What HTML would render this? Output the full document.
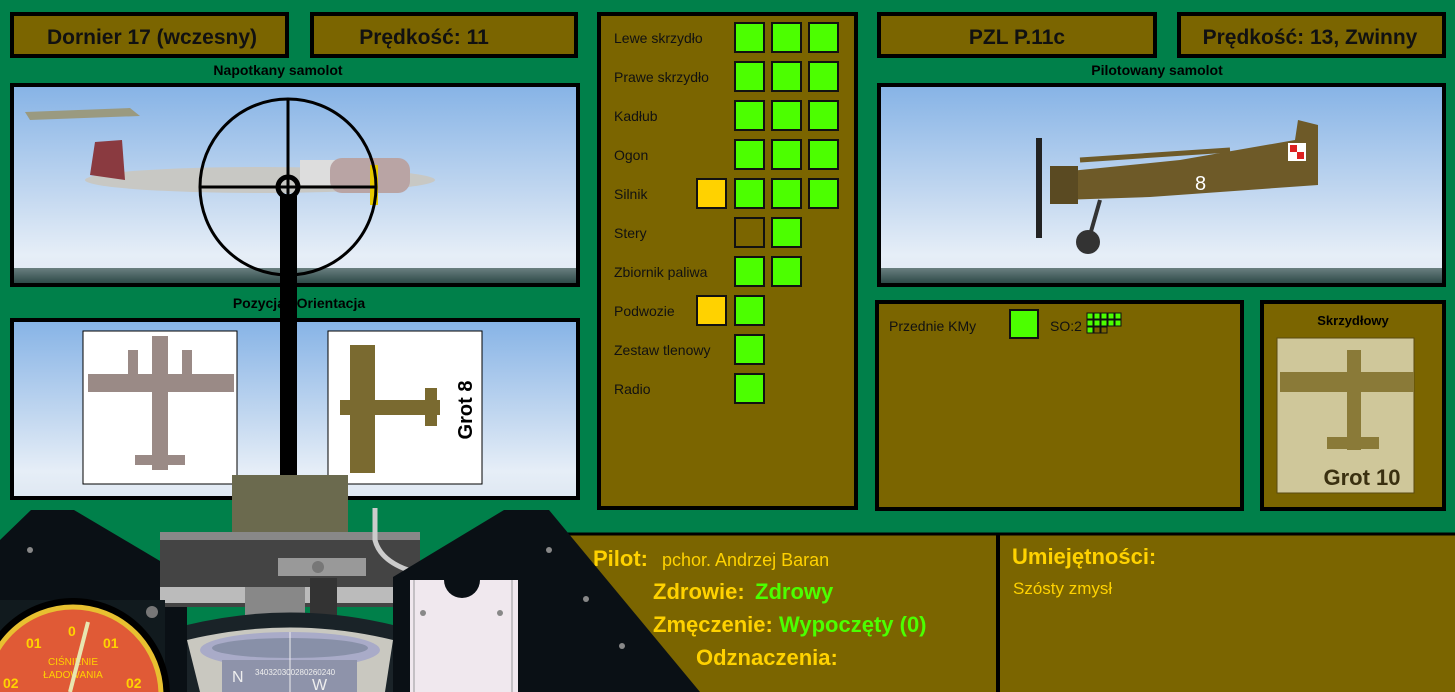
<!DOCTYPE html>
<html><head><meta charset="utf-8"><style>
html,body{margin:0;padding:0;background:#00804a;width:1455px;height:692px;overflow:hidden;}
svg{display:block;font-family:"Liberation Sans","DejaVu Sans",sans-serif;}
</style></head><body>
<svg width="1455" height="692" viewBox="0 0 1455 692" xmlns="http://www.w3.org/2000/svg">
<defs>
<linearGradient id="sky" x1="0" y1="0" x2="0" y2="1">
<stop offset="0" stop-color="#86b3e6"/><stop offset="0.55" stop-color="#c3d8f0"/><stop offset="0.85" stop-color="#e6eef7"/><stop offset="1" stop-color="#dfe8f2"/>
</linearGradient>
<linearGradient id="sea" x1="0" y1="0" x2="0" y2="1"><stop offset="0" stop-color="#6a7f80"/><stop offset="1" stop-color="#2e4a48"/></linearGradient>
</defs>
<rect width="1455" height="692" fill="#00804a"/>
<g stroke="#000" stroke-width="4" fill="#7b6500">
<rect x="12" y="14" width="275" height="42"/>
<rect x="312" y="14" width="264" height="42"/>
<rect x="879" y="14" width="276" height="42"/>
<rect x="1179" y="14" width="265" height="42"/>
<rect x="599" y="14" width="257" height="494"/>
<rect x="877" y="302" width="365" height="207"/>
<rect x="1262" y="302" width="182" height="207"/>
</g>
<g font-size="21" font-weight="bold" fill="#111" text-anchor="middle">
<text x="152" y="44">Dornier 17 (wczesny)</text>
<text x="424" y="44">Prędkość: 11</text>
<text x="1017" y="44">PZL P.11c</text>
<text x="1310" y="44">Prędkość: 13, Zwinny</text>
</g>
<g font-size="14" font-weight="bold" fill="#000" text-anchor="middle">
<text x="278" y="75">Napotkany samolot</text>
<text x="1157" y="75">Pilotowany samolot</text>
<text x="299" y="308">Pozycja i Orientacja</text>
<text x="1353" y="325" font-size="13">Skrzydłowy</text>
</g>
<!-- sky panels -->
<rect x="12" y="85" width="566" height="200" fill="url(#sky)" stroke="#000" stroke-width="4"/>
<rect x="14" y="268" width="562" height="15" fill="url(#sea)"/>
<rect x="879" y="85" width="565" height="200" fill="url(#sky)" stroke="#000" stroke-width="4"/>
<rect x="881" y="268" width="561" height="15" fill="url(#sea)"/>
<rect x="12" y="320" width="566" height="178" fill="url(#sky)" stroke="#000" stroke-width="4"/>
<!-- Dornier side -->
<g>
<ellipse cx="260" cy="180" rx="175" ry="13" fill="#c8c8c4"/>
<path d="M90 175 L95 142 L122 140 L125 180 Z" fill="#8a3a40"/>
<rect x="300" y="160" width="40" height="25" fill="#ddd"/>
<rect x="330" y="158" width="80" height="35" rx="12" fill="#b9a4a4"/>
<rect x="370" y="165" width="8" height="40" fill="#e6c800"/>
<path d="M25 112 L130 108 L140 116 L30 120 Z" fill="#9a9a80"/>
</g>
<!-- PZL side -->
<g>
<path d="M1060 172 L1180 160 L1295 140 L1298 120 L1318 125 L1318 185 L1150 197 L1060 200 Z" fill="#6e5a28"/>
<rect x="1050" y="166" width="28" height="38" fill="#5a4a22"/>
<rect x="1036" y="138" width="6" height="100" fill="#222"/>
<path d="M1080 160 L1230 150" stroke="#6e5a28" stroke-width="5"/>
<path d="M1100 200 L1090 235" stroke="#333" stroke-width="4"/>
<circle cx="1088" cy="242" r="12" fill="#333"/>
<rect x="1288" y="143" width="18" height="18" fill="#fff"/><rect x="1290" y="145" width="7" height="7" fill="#d22"/><rect x="1297" y="152" width="7" height="7" fill="#d22"/>
<text x="1195" y="190" font-size="20" fill="#fff">8</text>
</g>
<!-- top-down images -->
<rect x="83" y="331" width="154" height="153" fill="#fff" stroke="#000" stroke-width="1"/>
<g fill="#9a8a86"><rect x="88" y="374" width="146" height="18"/><rect x="152" y="336" width="16" height="134"/><rect x="135" y="455" width="50" height="10"/><rect x="128" y="350" width="10" height="40"/><rect x="182" y="350" width="10" height="40"/></g>
<rect x="328" y="331" width="154" height="153" fill="#fff" stroke="#000" stroke-width="1"/>
<g fill="#7a6a30"><rect x="350" y="345" width="25" height="128"/><rect x="340" y="400" width="100" height="15"/><rect x="425" y="388" width="12" height="38"/></g>
<text transform="translate(472,410) rotate(-90)" font-size="20" font-weight="bold" text-anchor="middle" fill="#000">Grot 8</text>
<!-- gunsight -->
<g stroke="#000" fill="none" stroke-width="3">
<circle cx="288" cy="187" r="88"/>
<line x1="288" y1="99" x2="288" y2="275"/>
<line x1="200" y1="187" x2="376" y2="187"/>
<circle cx="288" cy="187" r="10" stroke-width="5"/>
</g>
<rect x="280" y="196" width="17" height="290" fill="#000"/>
<!-- damage -->
<g font-size="14" fill="#111">
<text x="614" y="43">Lewe skrzydło</text><text x="614" y="82">Prawe skrzydło</text><text x="614" y="121">Kadłub</text><text x="614" y="160">Ogon</text><text x="614" y="199">Silnik</text><text x="614" y="238">Stery</text><text x="614" y="277">Zbiornik paliwa</text><text x="614" y="316">Podwozie</text><text x="614" y="355">Zestaw tlenowy</text><text x="614" y="394">Radio</text>
</g>
<g stroke="#111" stroke-width="2" fill="#4cff00">
<rect x="735" y="23" width="29" height="29"/><rect x="772" y="23" width="29" height="29"/><rect x="809" y="23" width="29" height="29"/>
<rect x="735" y="62" width="29" height="29"/><rect x="772" y="62" width="29" height="29"/><rect x="809" y="62" width="29" height="29"/>
<rect x="735" y="101" width="29" height="29"/><rect x="772" y="101" width="29" height="29"/><rect x="809" y="101" width="29" height="29"/>
<rect x="735" y="140" width="29" height="29"/><rect x="772" y="140" width="29" height="29"/><rect x="809" y="140" width="29" height="29"/>
<rect x="697" y="179" width="29" height="29" fill="#ffd200"/><rect x="735" y="179" width="29" height="29"/><rect x="772" y="179" width="29" height="29"/><rect x="809" y="179" width="29" height="29"/>
<rect x="735" y="218" width="29" height="29" fill="#7b6500"/><rect x="772" y="218" width="29" height="29"/>
<rect x="735" y="257" width="29" height="29"/><rect x="772" y="257" width="29" height="29"/>
<rect x="697" y="296" width="29" height="29" fill="#ffd200"/><rect x="735" y="296" width="29" height="29"/>
<rect x="735" y="335" width="29" height="29"/>
<rect x="735" y="374" width="29" height="29"/>
</g>
<!-- KMy -->
<text x="889" y="331" font-size="14" fill="#111">Przednie KMy</text>
<rect x="1010" y="310" width="28" height="28" fill="#4cff00" stroke="#111" stroke-width="2"/>
<text x="1050" y="331" font-size="14" fill="#111">SO:2</text>
<g fill="#4cff00" stroke="#111" stroke-width="1">
<rect x="1087" y="313" width="6" height="6"/><rect x="1094" y="313" width="6" height="6"/><rect x="1101" y="313" width="6" height="6"/><rect x="1108" y="313" width="6" height="6"/><rect x="1115" y="313" width="6" height="6"/>
<rect x="1087" y="320" width="6" height="6"/><rect x="1094" y="320" width="6" height="6"/><rect x="1101" y="320" width="6" height="6"/><rect x="1108" y="320" width="6" height="6"/><rect x="1115" y="320" width="6" height="6"/>
<rect x="1087" y="327" width="6" height="6"/><rect x="1094" y="327" width="6" height="6" fill="#7b6500"/><rect x="1101" y="327" width="6" height="6" fill="#7b6500"/>
</g>
<!-- wingman -->
<rect x="1277" y="338" width="137" height="155" fill="#cfc79a" stroke="#5a4a10" stroke-width="1"/>
<g fill="#8a7a38"><rect x="1280" y="372" width="134" height="20"/><rect x="1347" y="350" width="14" height="100"/><rect x="1327" y="437" width="52" height="12"/></g>
<text x="1362" y="485" font-size="22" font-weight="bold" fill="#3a3010" text-anchor="middle">Grot 10</text>
<!-- pilot panels -->
<rect x="565" y="533" width="433" height="159" fill="#7b6500"/>
<rect x="998" y="533" width="457" height="159" fill="#7b6500"/>
<line x1="998" y1="533" x2="998" y2="692" stroke="#000" stroke-width="4"/>
<line x1="565" y1="534" x2="1455" y2="534" stroke="#000" stroke-width="3"/>
<g font-size="22" font-weight="bold" fill="#ffd200">
<text x="593" y="566">Pilot:</text>
<text x="653" y="599">Zdrowie:</text>
<text x="653" y="632">Zmęczenie:</text>
<text x="696" y="665">Odznaczenia:</text>
<text x="1012" y="564">Umiejętności:</text>
</g>
<text x="662" y="566" font-size="18" fill="#ffd200">pchor. Andrzej Baran</text>
<g font-size="22" font-weight="bold" fill="#4cff00"><text x="755" y="599">Zdrowy</text><text x="779" y="632">Wypoczęty (0)</text></g>
<text x="1013" y="594" font-size="17" fill="#ffd200">Szósty zmysł</text>
<!-- cockpit -->
<polygon points="0,540 31,510 74,510 187,577 187,692 0,692" fill="#0a1015"/>
<rect x="232" y="475" width="116" height="60" fill="#6b6a4e"/>
<rect x="160" y="532" width="260" height="75" fill="#444"/>
<rect x="160" y="532" width="260" height="8" fill="#888"/>
<rect x="160" y="587" width="260" height="16" fill="#bbb"/>
<rect x="245" y="587" width="60" height="30" fill="#888"/>
<rect x="310" y="578" width="27" height="40" fill="#333"/>
<rect x="278" y="558" width="88" height="18" fill="#999"/>
<circle cx="318" cy="567" r="6" fill="#777"/>
<path d="M375 508 L375 540 Q380 560 408 570" stroke="#ccc" stroke-width="5" fill="none"/>
<path d="M187 625 Q290 600 393 625 L393 692 L187 692 Z" fill="#1a2328"/>
<path d="M187 640 Q290 615 393 640 L385 692 L200 692 Z" fill="#c9c8c0"/>
<ellipse cx="290" cy="650" rx="90" ry="18" fill="#a9abc8"/>
<ellipse cx="290" cy="648" rx="78" ry="10" fill="#8890a8"/>
<rect x="222" y="660" width="135" height="32" fill="#8e93aa"/>
<text x="232" y="682" font-size="16" fill="#eee">N</text><text x="255" y="675" font-size="8" fill="#eee">340320300280260240</text><text x="312" y="690" font-size="16" fill="#eee">W</text>
<line x1="290" y1="632" x2="290" y2="692" stroke="#eee" stroke-width="1"/>
<polygon points="393,577 504,510 549,510 700,692 393,692" fill="#0a1015"/>
<rect x="0" y="600" width="165" height="92" fill="#111a1e"/>
<circle cx="73" cy="695" r="97" fill="#000"/>
<circle cx="73" cy="695" r="88" fill="#e05a36" stroke="#e8c030" stroke-width="5"/>
<text x="68" y="636" font-size="14" font-weight="bold" fill="#ffd200">0</text>
<text x="26" y="648" font-size="14" font-weight="bold" fill="#ffd200">01</text>
<text x="103" y="648" font-size="14" font-weight="bold" fill="#ffd200">01</text>
<text x="3" y="688" font-size="14" font-weight="bold" fill="#ffd200">02</text>
<text x="126" y="688" font-size="14" font-weight="bold" fill="#ffd200">02</text>
<text x="73" y="665" font-size="10" fill="#ffd200" text-anchor="middle">CIŚNIENIE</text>
<text x="73" y="678" font-size="10" fill="#ffd200" text-anchor="middle">ŁADOWANIA</text>
<line x1="70" y1="692" x2="88" y2="622" stroke="#e8e6b0" stroke-width="4"/>
<circle cx="152" cy="612" r="6" fill="#777"/>
<rect x="410" y="580" width="108" height="112" fill="#f0e8ee"/>
<line x1="414" y1="580" x2="414" y2="692" stroke="#999"/><line x1="512" y1="580" x2="512" y2="692" stroke="#999"/>
<path d="M444 580 A17 17 0 0 0 480 580 Z" fill="#0a1015"/>
<g fill="#888"><circle cx="30" cy="550" r="3"/><circle cx="549" cy="550" r="3"/><circle cx="423" cy="613" r="3"/><circle cx="500" cy="613" r="3"/><circle cx="586" cy="599" r="3"/><circle cx="622" cy="646" r="3"/></g>
</svg>
</body></html>
